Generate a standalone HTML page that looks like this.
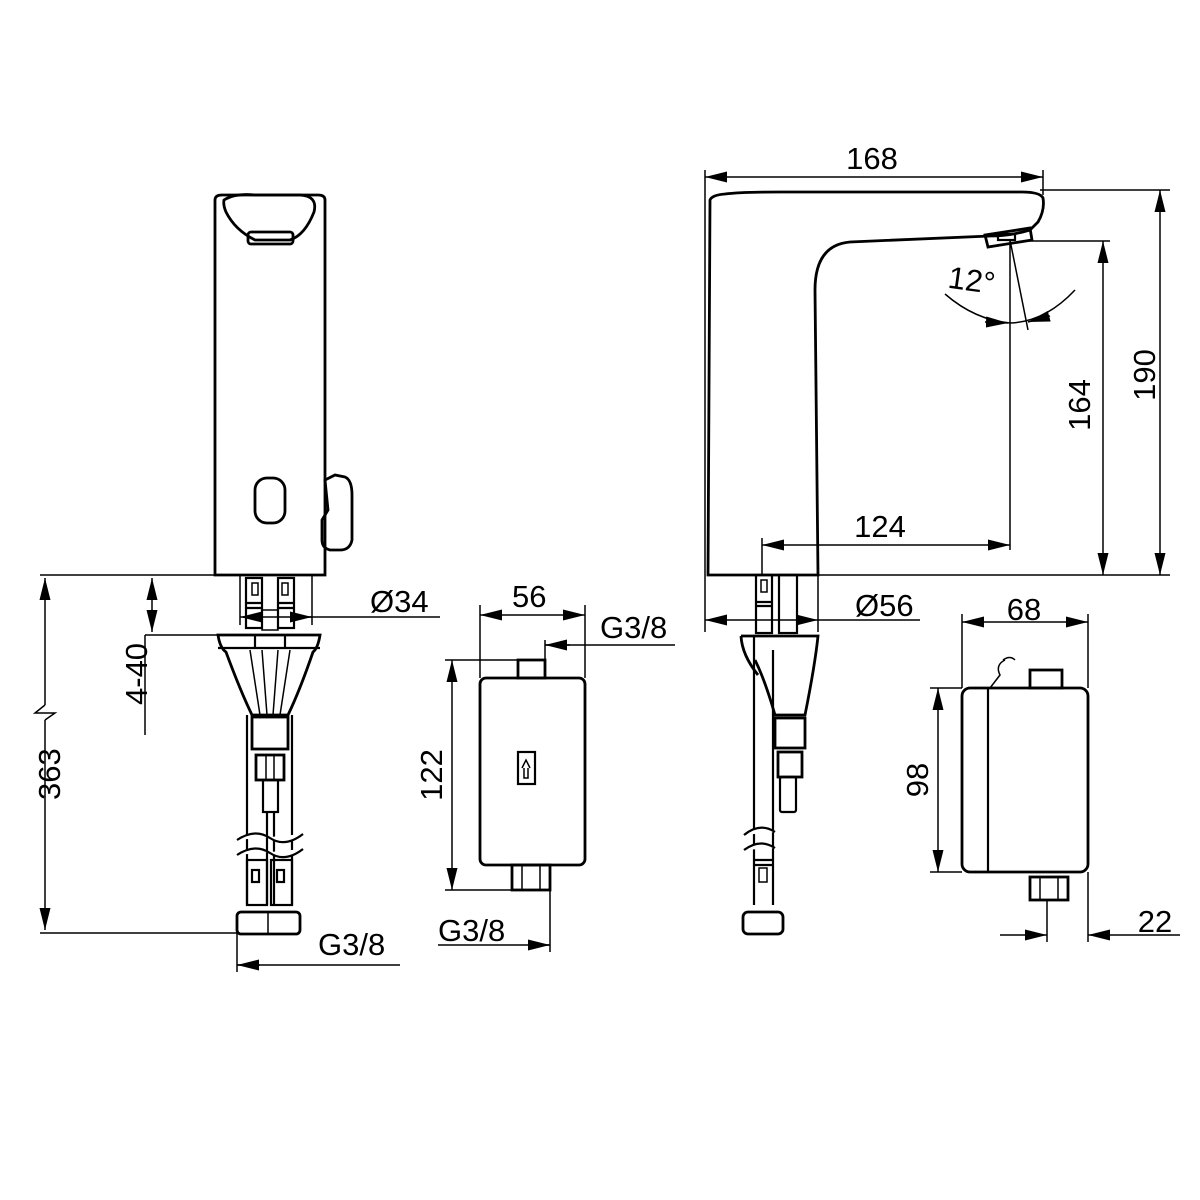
<!DOCTYPE html>
<html><head><meta charset="utf-8"><style>
html,body{margin:0;padding:0;background:#fff;}
svg{display:block;}
text{font-family:"Liberation Sans",sans-serif;font-size:31px;fill:#000;}
</style></head><body>
<svg width="1200" height="1200" viewBox="0 0 1200 1200" xmlns="http://www.w3.org/2000/svg">
<defs>
<marker id="a" viewBox="0 0 20 10" refX="20" refY="5" markerWidth="22" markerHeight="11" markerUnits="userSpaceOnUse" orient="auto-start-reverse"><path d="M0,0 L20,5 L0,10 z" fill="#000"/></marker>
</defs>
<g fill="none" stroke="#000" stroke-width="1.5">
<!-- ===== FRONT FAUCET ===== -->
<path d="M215,575 L215,200 Q215,195 222,195 L318,195 Q325,195 325,200 L325,575 Z" stroke-width="2.8"/>
<path d="M224,200 Q235,193 255,195 L300,195 Q318,196 314,212 Q305,235 290,240 L255,240 Q235,230 226,212 Q223,205 224,200 Z" stroke-width="2.8"/>
<rect x="248" y="232" width="45" height="12" rx="3" stroke-width="2.8"/>
<rect x="255" y="478" width="30" height="45" rx="12" stroke-width="2.8"/>
<path d="M325,480 L335,475 L345,477 Q352,480 352,495 L352,540 Q350,550 340,550 L330,550 Q322,548 322,540 L322,520 L328,510 Z" stroke-width="2.8"/>
<!-- pipes -->
<rect x="246" y="578" width="16" height="50" stroke-width="2.2"/>
<rect x="278" y="578" width="16" height="50" stroke-width="2.2"/>
<rect x="252" y="583" width="6" height="12"/><rect x="282" y="583" width="6" height="12"/>
<path d="M246,603 L262,603 M278,603 L294,603 M246,608 L262,608 M278,608 L294,608" stroke-width="2.2"/>
<rect x="262" y="610" width="16" height="20"/>
<!-- cone -->
<path d="M218,635 L320,635 Q318,648 313,652 Q300,690 288,715 L252,715 Q240,690 226,652 Q220,648 218,635 Z" stroke-width="2.8"/>
<path d="M218,648 L320,648 M255,635 L255,648 M285,635 L285,648" stroke-width="2.2"/>
<path d="M250,650 L260,715 M290,650 L280,715 M262,650 L267,715 M278,650 L273,715" />
<rect x="252" y="717" width="36" height="32" stroke-width="2.8"/>
<rect x="256" y="755" width="28" height="25" stroke-width="2.8"/>
<path d="M266,755 L266,780 M274,755 L274,780"/>
<rect x="263" y="780" width="15" height="32" stroke-width="2.2"/>
<path d="M247,715 L247,905 M292,715 L292,905 M267,812 L267,905 M274,812 L274,905" stroke-width="2.2"/>
<path d="M237,840 Q255,828 270,838 Q285,848 303,834 M237,855 Q255,843 270,853 Q285,863 303,849" stroke-width="2.2" fill="#fff"/>
<rect x="247" y="860" width="20" height="45" stroke-width="2.2"/><rect x="271" y="860" width="21" height="45" stroke-width="2.2"/>
<rect x="252" y="870" width="7" height="12" stroke-width="2.2"/><rect x="277" y="870" width="7" height="12" stroke-width="2.2"/>
<rect x="237" y="912" width="63" height="22" rx="4" stroke-width="2.8"/>
<path d="M268,912 L268,934"/>
<!-- front dims -->
<path d="M40,575 L215,575 M145,635 L220,635 M40,933 L240,933 M145,635 L145,735 M237,933 L237,972"/>
<path d="M45,705 L45,578" marker-end="url(#a)"/>
<path d="M45,720 L45,930" marker-end="url(#a)"/>
<path d="M45,705 L35,713 L55,713 L45,720"/>
<path d="M152,600 L152,578" marker-end="url(#a)"/><path d="M152,610 L152,632" marker-end="url(#a)"/>
<path d="M152,598 L152,612"/>
<path d="M240,575 L240,625 M312,575 L312,625"/>
<path d="M262,617 L240,617" marker-end="url(#a)"/><path d="M290,617 L312,617" marker-end="url(#a)"/><path d="M262,617 L440,617"/>
<path d="M400,965 L237,965"/><path d="M260,965 L237,965" marker-end="url(#a)"/>
<!-- ===== BOX 56 ===== -->
<rect x="480" y="678" width="105" height="187" rx="6" stroke-width="2.8"/>
<rect x="518" y="660" width="27" height="18" stroke-width="2.8"/>
<rect x="512" y="865" width="38" height="25" stroke-width="2.8"/>
<path d="M522,865 L522,890 M540,865 L540,890"/>
<rect x="518" y="752" width="17" height="32" stroke-width="2.2"/>
<path d="M522,768 L526,760 L530,768 M524,768 L524,778 L528,778 L528,768"/>
<path d="M480,605 L480,678 M585,605 L585,678"/>
<path d="M500,615 L480,615" marker-end="url(#a)"/><path d="M565,615 L585,615" marker-end="url(#a)"/><path d="M500,615 L565,615"/>
<path d="M545,640 L545,660 M675,645 L545,645"/><path d="M570,645 L545,645" marker-end="url(#a)"/>
<path d="M445,660 L518,660 M445,890 L512,890"/>
<path d="M452,680 L452,660" marker-end="url(#a)"/><path d="M452,870 L452,890" marker-end="url(#a)"/><path d="M452,680 L452,870"/>
<path d="M550,890 L550,952 M438,945 L550,945"/><path d="M528,945 L550,945" marker-end="url(#a)"/>
<!-- ===== SIDE FAUCET ===== -->
<path d="M708,575 L710,200 Q712,195 725,194 Q740,192 780,192 L1022,192 Q1040,192 1043,198 Q1045,210 1038,222 L1030,230 Q1010,236 990,236 L850,242 Q815,245 815,290 L818,575 Z" stroke-width="2.8"/>
<path d="M985,235 L1030,228 L1032,240 L988,247 Z" stroke-width="2.8"/>
<rect x="998" y="234" width="17" height="6" stroke-width="2.2"/>
<path d="M1010,240 L1010,550 M1010,240 L1028,330"/>
<path d="M945,294 Q975,320 1010,323 Q1045,322 1075,290"/>
<path d="M985,322 L1008,323" marker-end="url(#a)"/><path d="M1050,316 L1028,322" marker-end="url(#a)"/>
<!-- side pipes -->
<rect x="756" y="575" width="16" height="58" stroke-width="2.2"/>
<rect x="761" y="580" width="6" height="12"/>
<path d="M756,602 L772,602 M756,606 L772,606" stroke-width="2.2"/>
<rect x="779" y="575" width="18" height="58" stroke-width="2.2"/>
<path d="M741,636 L818,636 Q815,665 805,715 L775,715 Q765,680 755,660" stroke-width="2.8"/>
<path d="M741,636 Q742,655 758,675" stroke-width="2.8"/>
<rect x="775" y="718" width="30" height="30" stroke-width="2.8"/>
<rect x="778" y="752" width="24" height="25" stroke-width="2.8"/>
<rect x="780" y="777" width="16" height="35" rx="2" stroke-width="2.2"/>
<path d="M754,636 L754,905 M773,650 L773,905" stroke-width="2.2"/>
<path d="M744,835 Q760,822 775,832 M744,850 Q760,838 775,848" stroke-width="2.2" fill="#fff"/>
<path d="M754,860 L773,860 M754,865 L773,865" stroke-width="2.2"/>
<rect x="759" y="868" width="8" height="14"/>
<rect x="743" y="912" width="40" height="22" rx="5" stroke-width="2.8"/>
<!-- side dims -->
<path d="M705,170 L705,632 M1043,170 L1043,195"/>
<path d="M725,177 L705,177" marker-end="url(#a)"/><path d="M1023,177 L1043,177" marker-end="url(#a)"/><path d="M725,177 L1023,177"/>
<path d="M1040,190 L1170,190 M818,575 L1170,575 M1025,241 L1110,241"/>
<path d="M1160,212 L1160,190" marker-end="url(#a)"/><path d="M1160,553 L1160,575" marker-end="url(#a)"/><path d="M1160,212 L1160,553"/>
<path d="M1103,263 L1103,241" marker-end="url(#a)"/><path d="M1103,553 L1103,575" marker-end="url(#a)"/><path d="M1103,263 L1103,553"/>
<path d="M762,538 L762,575"/>
<path d="M782,545 L762,545" marker-end="url(#a)"/><path d="M990,545 L1010,545" marker-end="url(#a)"/><path d="M782,545 L990,545"/>
<path d="M818,575 L818,632"/>
<path d="M725,620 L705,620" marker-end="url(#a)"/><path d="M920,620 L818,620"/><path d="M798,620 L818,620" marker-end="url(#a)"/><path d="M725,620 L798,620"/>
<!-- ===== BOX 68 ===== -->
<rect x="962" y="688" width="126" height="184" rx="8" stroke-width="2.8"/>
<path d="M988,688 L988,872" stroke-width="2.2"/>
<rect x="1030" y="670" width="32" height="18" stroke-width="2.8"/>
<path d="M990,688 L1000,675 Q995,665 1005,660 M1003,660 Q1010,655 1015,660"/>
<rect x="1030" y="877" width="38" height="23" stroke-width="2.8"/>
<path d="M1040,877 L1040,900 M1058,877 L1058,900"/>
<path d="M962,614 L962,688 M1088,614 L1088,688"/>
<path d="M982,622 L962,622" marker-end="url(#a)"/><path d="M1068,622 L1088,622" marker-end="url(#a)"/><path d="M982,622 L1068,622"/>
<path d="M930,688 L962,688 M930,872 L962,872"/>
<path d="M938,710 L938,688" marker-end="url(#a)"/><path d="M938,850 L938,872" marker-end="url(#a)"/><path d="M938,710 L938,850"/>
<path d="M1047,900 L1047,942 M1088,872 L1088,942"/>
<path d="M1000,935 L1047,935" marker-end="url(#a)"/><path d="M1180,935 L1088,935" marker-end="url(#a)"/>
</g>
<g>
<text x="12" y="808" transform="rotate(-90 32 780)">363</text>
<text x="120" y="702" transform="rotate(-90 135 690)">4-40</text>
<text x="370" y="612">Ø34</text>
<text x="318" y="955">G3/8</text>
<text x="512" y="607">56</text>
<text x="600" y="638">G3/8</text>
<text x="432" y="785" text-anchor="middle" transform="rotate(-90 432 775)">122</text>
<text x="438" y="941">G3/8</text>
<text x="872" y="169" text-anchor="middle">168</text>
<text x="948" y="290" transform="rotate(8 965 282)">12°</text>
<text x="1145" y="385" text-anchor="middle" transform="rotate(-90 1145 375)">190</text>
<text x="1080" y="415" text-anchor="middle" transform="rotate(-90 1080 405)">164</text>
<text x="880" y="537" text-anchor="middle">124</text>
<text x="855" y="616">Ø56</text>
<text x="1024" y="620" text-anchor="middle">68</text>
<text x="918" y="790" text-anchor="middle" transform="rotate(-90 918 780)">98</text>
<text x="1155" y="932" text-anchor="middle">22</text>
</g>
</svg>
</body></html>
